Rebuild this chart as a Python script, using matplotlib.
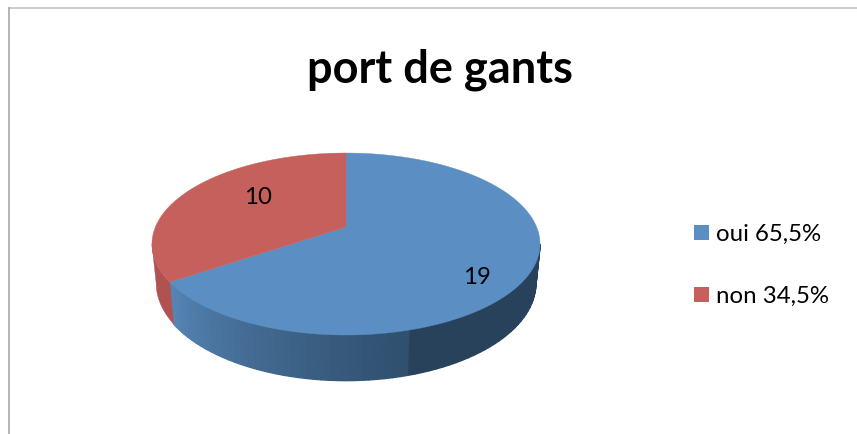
import numpy as np
import matplotlib
matplotlib.use('Agg')
import matplotlib.pyplot as plt
from matplotlib.patches import Polygon, Rectangle
from matplotlib.colors import to_rgb

title = 'port de gants'
values = [19, 10]
names = ['oui 65,5%', 'non 34,5%']
colors = ['#5b8fc4', '#c5605c']

plt.rcParams['font.family'] = ['Lato', 'DejaVu Sans']

# perspective of the disc, in pixels
P = 0.187
def project(theta, top=True):
    u, v = np.sin(theta), np.cos(theta)
    w = 1 + P * v
    if top:
        return 346 + 190.6 * u / w, 227 - 87.8 * v / w
    return 346 + 186.5 * u / w, 265 - 94 * v / w

fig = plt.figure(figsize=(8.57, 4.34), dpi=100)
ax = fig.add_axes([0, 0, 1, 1])
ax.set_xlim(0, 857)
ax.set_ylim(434, 0)
ax.axis('off')

# chart frame
ax.plot([9, 857], [8, 8], color='#c4c4c4', lw=1.2)
ax.plot([9, 9], [8, 434], color='#a8a8a8', lw=1.2)

ax.text(440.5, 70, title, fontsize=32.5, fontweight='bold', ha='center', va='center', color='black')

fracs = np.array(values) / sum(values)
edges = np.concatenate([[0], np.cumsum(fracs)]) * 2 * np.pi
th_right = np.arccos(-P)
th_left = 2 * np.pi - th_right

# side wall, blue part with shaded bands
n = 68
bands = np.linspace(th_right, edges[1], n + 1)
c_dark = np.array(to_rgb('#28425c'))
c_mid = np.array(to_rgb('#30506f'))
c_light = np.array(to_rgb('#5585b5'))
for i in range(n):
    t = np.linspace(bands[i], bands[i + 1], 6)
    xa, ya = project(t, True)
    xb, yb = project(t, False)
    f = i / (n - 1)
    if f < 0.47:
        col = c_dark
    else:
        col = c_mid + (c_light - c_mid) * ((f - 0.47) / 0.53) ** 1.2
    ax.add_patch(Polygon(np.r_[np.c_[xa, ya], np.c_[xb, yb][::-1]], fc=col, ec=col, lw=1.0))

# side wall, red part
t = np.linspace(edges[1], th_left, 20)
xa, ya = project(t, True)
xb, yb = project(t, False)
ax.add_patch(Polygon(np.r_[np.c_[xa, ya], np.c_[xb, yb][::-1]], fc='#b0524f', ec='#b0524f', lw=0.3))

# top of the disc
for i in range(len(values)):
    t = np.linspace(edges[i], edges[i + 1], 200)
    x, y = project(t, True)
    pts = np.r_[[[346, 227]], np.c_[x, y]]
    ax.add_patch(Polygon(pts, fc=colors[i], ec=colors[i], lw=0.3, zorder=3))

ax.text(477, 278, str(values[0]), fontsize=17.3, ha='center', va='center', color='black', zorder=4)
ax.text(258, 198, str(values[1]), fontsize=17.3, ha='center', va='center', color='black', zorder=4)

# legend
for y, name, c in zip([232, 294], names, colors):
    ax.add_patch(Rectangle((694, y - 7.5), 15, 15, fc=c, ec='none'))
    ax.text(716, y + 2, name, fontsize=17.3, ha='left', va='center', color='black')

plt.savefig('out.png', dpi=100)
